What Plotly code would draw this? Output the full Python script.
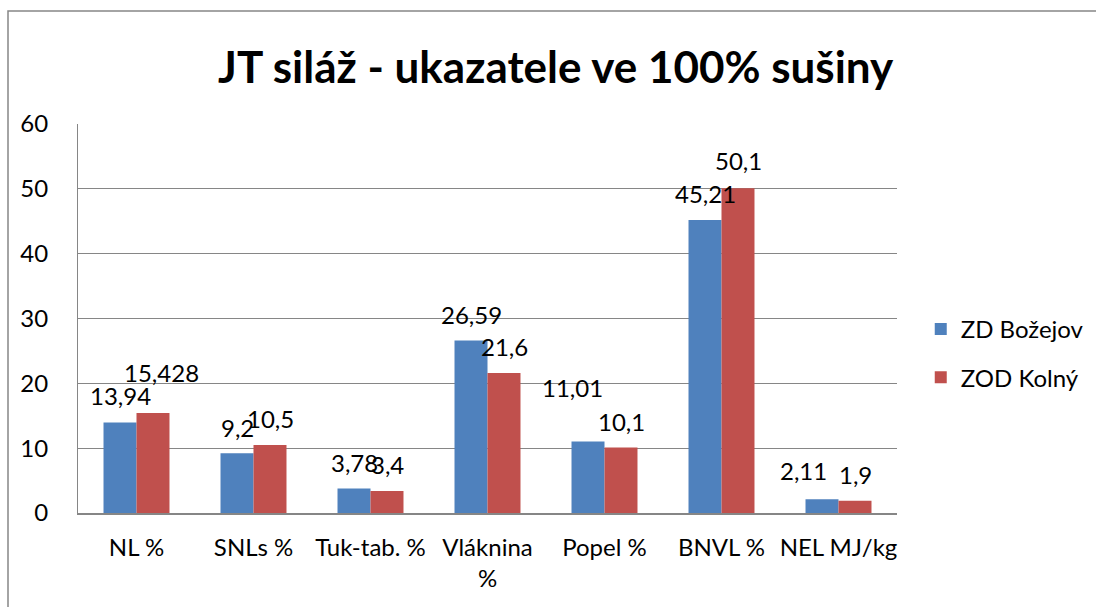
import plotly.graph_objects as go

categories = ["NL %", "SNLs %", "Tuk-tab. %", "Vláknina<br>%", "Popel %", "BNVL %", "NEL MJ/kg"]
series_names = ["ZD Božejov", "ZOD Kolný"]
bozejov = [13.94, 9.2, 3.78, 26.59, 11.01, 45.21, 2.11]
kolny = [15.428, 10.5, 3.4, 21.6, 10.1, 50.1, 1.9]
bozejov_labels = ["13,94", "9,2", "3,78", "26,59", "11,01", "45,21", "2,11"]
kolny_labels = ["15,428", "10,5", "3,4", "21,6", "10,1", "50,1", "1,9"]
y_ticks = [0, 10, 20, 30, 40, 50, 60]

# label nudges (pixels) for manually moved labels in the original
boz_dx = [0, 0, 0, 0, -16, 0, -19]
boz_dy = [1, 0, 0, 0, 28, 0, 3]
kol_dx = [8, 0, 0, 0, 0, 0, 0]
kol_dy = [14, 0, 0, 0, 0, 2, 0]

colors = ["#4F81BD", "#C0504D"]
FONT = "Lato"
FS = 24

fig = go.Figure()
for i, (name, vals) in enumerate(zip(series_names, [bozejov, kolny])):
    fig.add_trace(go.Bar(
        x=categories, y=vals, name=name, marker_color=colors[i],
        marker_line_width=0, legendgroup=name,
    ))

bar_half = 16.5
annotations = []
for vals, labs, dx, dy, sgn in [(bozejov, bozejov_labels, boz_dx, boz_dy, -1),
                                 (kolny, kolny_labels, kol_dx, kol_dy, 1)]:
    for c, v, t, ddx, ddy in zip(categories, vals, labs, dx, dy):
        annotations.append(dict(
            x=c, y=v, xref="x", yref="y", text=t, showarrow=False,
            xshift=sgn * bar_half + ddx, yshift=26 + ddy,
            xanchor="center", yanchor="middle",
            font=dict(family=FONT, size=FS, color="#000000"),
        ))

fig.update_layout(
    width=1096, height=607,
    margin=dict(l=78, r=199, t=124, b=94, autoexpand=False),
    paper_bgcolor="white", plot_bgcolor="white",
    bargap=0.436, bargroupgap=0,
    title=dict(text="<b>JT siláž - ukazatele ve 100% sušiny</b>",
               x=0.507, xanchor="center", y=1 - 68 / 607, yanchor="middle",
               font=dict(family=FONT, size=44, color="#000000")),
    legend=dict(x=1.029, xanchor="left", y=0.41, yanchor="middle",
                font=dict(family=FONT, size=FS, color="#000000"),
                tracegroupgap=14, itemwidth=30, bgcolor="rgba(0,0,0,0)"),
    annotations=annotations,
    showlegend=True,
    shapes=[dict(type="rect", xref="paper", yref="paper",
                 x0=(8 - 78) / 819, x1=(1200 - 78) / 819,
                 y0=(513 - 700) / 389, y1=(513 - 11) / 389,
                 line=dict(color="#868686", width=1.5), fillcolor="rgba(0,0,0,0)",
                 layer="below")],
)
fig.update_yaxes(range=[0, 60], tickvals=y_ticks, showgrid=True, gridcolor="#868686",
                 gridwidth=1, showline=True, linecolor="#868686", linewidth=1,
                 ticks="", ticklabelstandoff=24, zeroline=False,
                 tickfont=dict(family=FONT, size=FS, color="#000000"))
fig.update_xaxes(showline=True, linecolor="#868686", linewidth=1.5, ticks="",
                 ticklabelstandoff=12,
                 tickfont=dict(family=FONT, size=FS, color="#000000"))

fig.write_html("out.html", config={"displayModeBar": False},
               post_script="document.body.style.margin='0px';document.body.style.overflow='hidden';")
